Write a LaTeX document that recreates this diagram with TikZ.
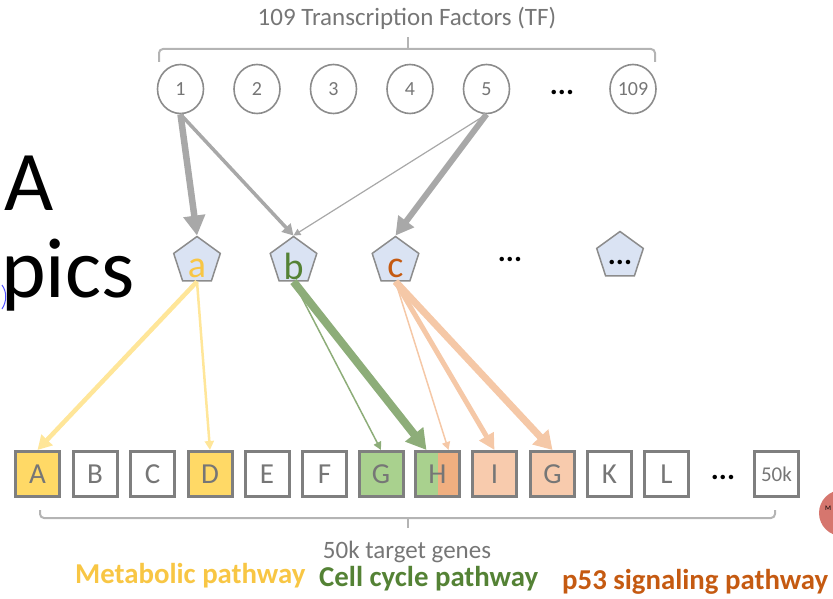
\documentclass[tikz,border=0pt]{standalone}
\usepackage{fontspec}
\setmainfont{Carlito}
\usetikzlibrary{arrows.meta,shapes.geometric}
\newcommand\myfs[1]{\fontsize{#1}{#1}\selectfont}
\definecolor{tfgray}{HTML}{8C8C8C}
\definecolor{numgray}{HTML}{767676}
\definecolor{pentgray}{HTML}{8C8C8C}
\definecolor{pentfill}{HTML}{DAE3F3}
\definecolor{boxgray}{HTML}{7F7F7F}
\definecolor{bracegray}{HTML}{B4B4B4}
\definecolor{arrgray}{HTML}{A8A8A8}
\definecolor{yarr}{HTML}{FFE699}
\definecolor{yfill}{HTML}{FFD966}
\definecolor{ytext}{HTML}{F8C644}
\definecolor{garrc}{HTML}{8DAD79}
\definecolor{gfill}{HTML}{A9D18E}
\definecolor{gtext}{HTML}{548235}
\definecolor{oarr}{HTML}{F5C8A7}
\definecolor{ofill}{HTML}{F8CBAD}
\definecolor{odark}{HTML}{F0AF80}
\definecolor{otext}{HTML}{C55A11}
\definecolor{redc}{HTML}{D6766E}
\begin{document}
\begin{tikzpicture}[x=1pt,y=-1pt]
\tikzset{
 tf/.style={ellipse, draw=tfgray, line width=1.6pt, fill=white, minimum width=46pt, minimum height=49pt, inner sep=0pt, text=numgray, font=\myfs{20}},
 pent/.style={regular polygon, regular polygon sides=5, minimum size=49pt, inner sep=0pt, draw=pentgray, line width=1.5pt, fill=pentfill},
 gene/.style={rectangle, draw=boxgray, line width=3pt, minimum width=44pt, minimum height=45pt, inner sep=0pt, text=numgray, font=\myfs{29}},
 brace/.style={draw=bracegray, line width=2pt, rounded corners=4pt},
 dots/.style={inner sep=0pt, font=\myfs{30}\bfseries},
 lab/.style={inner sep=0pt, anchor=base west, font=\myfs{28.8}\bfseries},
 gtxt/.style={inner sep=0pt, text=numgray, font=\myfs{25}},
 plet/.style={inner sep=0pt, font=\myfs{38}},
}
\useasboundingbox (0,0) rectangle (833,599);
\begin{scope}
\clip (0,0) rectangle (833,599);
\fill[redc] (842,513) circle[radius=23pt];
\node[inner sep=0pt, anchor=west, font=\myfs{7}] (mtxt) at (825,508) {M};
\end{scope}

% side texts
\node[inner sep=0pt, anchor=base west, font=\myfs{85}] (bigA) at (4,210) {A};
\node[inner sep=0pt, anchor=base west, font=\myfs{85}] (pics) at (1,297) {pics};
\draw[blue!70!white, line width=1pt] (2,285) .. controls (7,292) and (7,301) .. (2,309);

% title and brace
\node[gtxt] (title) at (407,18) {109 Transcription Factors (TF)};
\draw[brace] (159,62) -- (159,49) -- (655,49) -- (655,62);
\draw[brace] (408,49) -- (408,37);

% TF circles
\node[tf] (t1) at (180.5,89) {1};
\node[tf] (t2) at (257,89) {2};
\node[tf] (t3) at (333.5,89) {3};
\node[tf] (t4) at (410,89) {4};
\node[tf] (t5) at (486.5,89) {5};
\node[dots] (tdots) at (562,92) {...};
\node[tf] (t109) at (633,89) {109};

% topics
\node[pent] (pa) at (197,261) {};
\node[pent] (pb) at (293.5,261) {};
\node[pent] (pc) at (395.5,261) {};
\node[pent] (pd) at (620,256) {};
\node[plet, text=ytext] (la) at (197,268) {a};
\node[plet, text=gtext] (lb) at (293.5,266) {b};
\node[plet, text=otext] (lc) at (395.5,268) {c};
\node[dots] (pdots) at (510,259) {...};
\node[dots] (pddots) at (620,262) {...};

% TF -> topic arrows
\draw[arrgray, line width=6.5pt, -{Triangle[length=20pt,width=21pt]}] (t1.south) -- (pa.corner 1);
\draw[arrgray, line width=3.5pt, -{Triangle[length=11pt,width=12pt]}] (t1.south) -- (pb.corner 1);
\draw[arrgray, line width=1.2pt, -{Triangle[length=7pt,width=7pt]}] (t5.south) -- (pb.corner 1);
\draw[arrgray, line width=6pt, -{Triangle[length=18pt,width=19pt]}] (t5.south) -- (pc.corner 1);

% genes
\node[gene, fill=yfill] (gA) at (37.5,474) {A};
\node[gene] (gB) at (95,474) {B};
\node[gene] (gC) at (152.5,474) {C};
\node[gene, fill=yfill] (gD) at (210,474) {D};
\node[gene] (gE) at (267,474) {E};
\node[gene] (gF) at (324.5,474) {F};
\node[gene, fill=gfill] (gG) at (381,474) {G};
\node[gene, path picture={
  \fill[gfill] (path picture bounding box.south west) rectangle (path picture bounding box.north);
  \fill[odark] (path picture bounding box.south) rectangle (path picture bounding box.north east);
 }] (gH) at (437.5,474) {H};
\node[gene, fill=ofill] (gI) at (494.5,474) {I};
\node[gene, fill=ofill] (gG2) at (552.5,474) {G};
\node[gene] (gK) at (609.5,474) {K};
\node[gene] (gL) at (666.5,474) {L};
\node[dots] (gdots) at (723,477) {...};
\node[gene, font=\myfs{21}] (g50) at (776.5,474) {50k};

% topic -> gene arrows
\draw[yarr, line width=4.5pt, -{Triangle[length=14pt,width=15pt]}] (pa.south) -- (gA.north);
\draw[yarr, line width=2.5pt, -{Triangle[length=9pt,width=9pt]}] (pa.south) -- (gD.north);
\draw[garrc, line width=1.5pt, -{Triangle[length=8pt,width=8pt]}] (pb.south) -- (gG.north);
\draw[garrc, line width=8pt, -{Triangle[length=20pt,width=22pt]}] (pb.south) -- ([xshift=-11pt]gH.north);
\draw[oarr, line width=1.5pt, -{Triangle[length=8pt,width=8pt]}] (pc.south) -- ([xshift=11pt]gH.north);
\draw[oarr, line width=5pt, -{Triangle[length=16pt,width=16pt]}] (pc.south) -- (gI.north);
\draw[oarr, line width=7pt, -{Triangle[length=18pt,width=21pt]}] (pc.south) -- (gG2.north);

% bottom brace and labels
\draw[brace] (40,510) -- (40,518) -- (775,518) -- (775,510);
\draw[brace] (408,518) -- (408,528);
\node[gtxt] (genes) at (407,552) {50k target genes};
\node[lab, text=ytext] (metab) at (75,583) {Metabolic pathway};
\node[lab, text=gtext] (cell) at (319,586) {Cell cycle pathway};
\node[lab, text=otext] (p53) at (562,589) {p53 signaling pathway};
\end{tikzpicture}
\end{document}
